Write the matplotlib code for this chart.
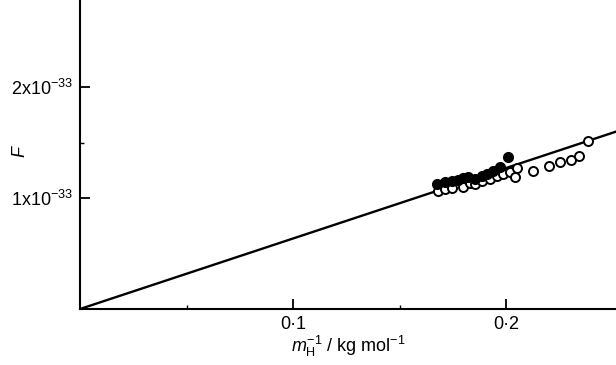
import numpy as np
import matplotlib.pyplot as plt
from matplotlib.ticker import FixedLocator

# filled circles (x in kg/mol, F in units of 1e-33)
filled_x = [0.1676, 0.1714, 0.1746, 0.1775, 0.1798, 0.1822, 0.1854, 0.1887,
            0.1911, 0.1939, 0.1972, 0.2009]
filled_F = [1.126, 1.144, 1.153, 1.162, 1.180, 1.189, 1.171, 1.198,
            1.216, 1.243, 1.279, 1.369]

# open circles
open_x = [0.1680, 0.1714, 0.1746, 0.1798, 0.1831, 0.1854, 0.1887, 0.1925,
          0.1958, 0.1986, 0.2019, 0.2052, 0.2042, 0.2127, 0.2202, 0.2254,
          0.2305, 0.2343, 0.2385]
open_F = [1.063, 1.081, 1.090, 1.099, 1.135, 1.126, 1.153, 1.171,
          1.198, 1.216, 1.234, 1.270, 1.189, 1.243, 1.288, 1.324,
          1.342, 1.378, 1.514]

slope = 6.35  # fitted line through origin
line_x = [0.0, 0.26]

xticks = [0.1, 0.2]
xtick_labels = ["0·1", "0·2"]
yticks = [1.0, 2.0]
ytick_labels = ["1x10$^{-33}$", "2x10$^{-33}$"]

plt.rcParams['font.family'] = ['Liberation Sans', 'DejaVu Sans']
plt.rcParams['mathtext.fontset'] = 'custom'
plt.rcParams['mathtext.rm'] = 'Liberation Sans'
plt.rcParams['mathtext.it'] = 'Liberation Sans:italic'

fig = plt.figure(figsize=(6.16, 3.65), dpi=100)
ax = fig.add_axes([80 / 616, 56 / 365, 536 / 616, 309 / 365])

ax.plot(line_x, slope * np.array(line_x), color='black', lw=1.7, zorder=2)
ax.plot(open_x, open_F, 'o', mfc='white', mec='black', mew=1.4, ms=6.5, zorder=3)
ax.plot(filled_x, filled_F, 'o', color='black', ms=7, zorder=4)

ax.set_xlim(0, (616 - 80) / 2130)
ax.set_ylim(0, 309 / 111)

for s in ['top', 'right']:
    ax.spines[s].set_visible(False)
for s in ['left', 'bottom']:
    ax.spines[s].set_linewidth(1.5)

ax.xaxis.set_major_locator(FixedLocator(xticks))
ax.set_xticklabels(xtick_labels)
ax.xaxis.set_minor_locator(FixedLocator([0.05, 0.15]))
ax.yaxis.set_major_locator(FixedLocator(yticks))
ax.set_yticklabels(ytick_labels)
ax.yaxis.set_minor_locator(FixedLocator([1.5]))

ax.tick_params(which='major', direction='in', length=7, width=1.3, labelsize=13, pad=5)
ax.tick_params(which='minor', direction='in', length=3, width=1.0)

ax.set_xlabel(r'$m_{\mathrm{H}}^{-1}$ / kg mol$^{-1}$', fontsize=13, labelpad=1)
ax.set_ylabel('$F$', fontsize=13)
ax.yaxis.set_label_coords(-0.095, 0.51)

fig.savefig('out.png', dpi=100)
